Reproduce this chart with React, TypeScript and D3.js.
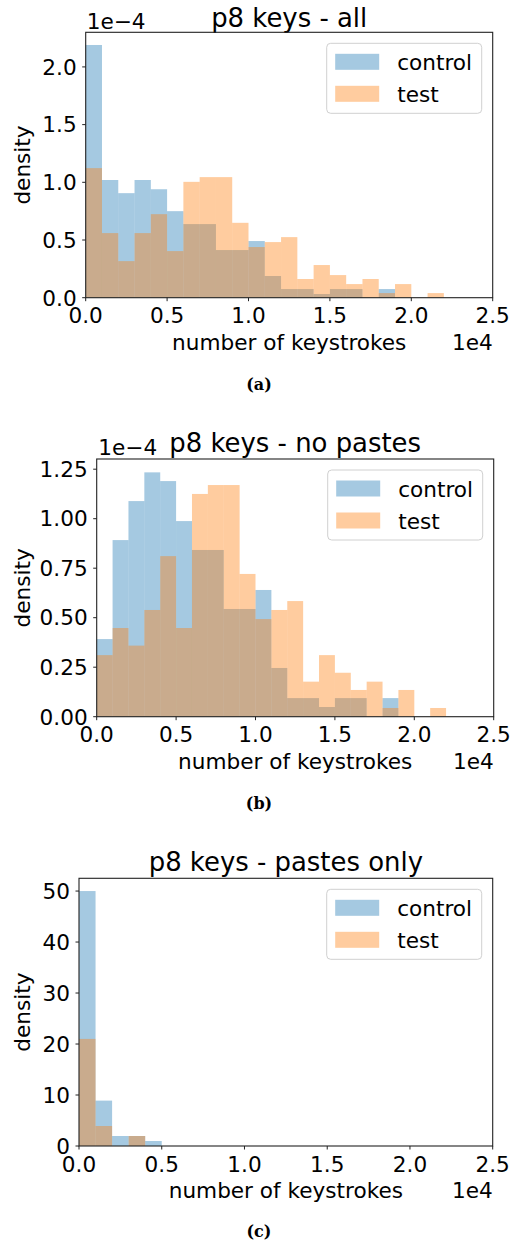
import React from "react";
import * as d3 from "d3";

// bin left edges (keystrokes), bin width 1000
const binEdges = d3.range(0, 22000, 1000);
const BIN_WIDTH = 1000;

// panel (a): density ×1e-4
const allControl = [2.19, 1.02, 0.906, 1.02, 0.94, 0.75, 0.638, 0.638, 0.413, 0.413, 0.491, 0.188, 0.075, 0.075, 0.032, 0.075, 0.075, 0, 0.075, 0, 0, 0];
const allTest = [1.123, 0.56, 0.317, 0.56, 0.724, 0.404, 1.004, 1.045, 1.045, 0.649, 0.439, 0.482, 0.525, 0.162, 0.283, 0.196, 0.118, 0.162, 0.04, 0.118, 0, 0.04];

// panel (b): density ×1e-4
const noPasteControl = [0.392, 0.892, 1.089, 1.234, 1.19, 0.988, 0.842, 0.842, 0.544, 0.544, 0.64, 0.246, 0.094, 0.094, 0.049, 0.094, 0.094, 0, 0.094, 0, 0, 0];
const noPasteTest = [0.311, 0.448, 0.359, 0.539, 0.811, 0.448, 1.125, 1.17, 1.17, 0.721, 0.493, 0.539, 0.584, 0.177, 0.311, 0.222, 0.135, 0.177, 0.044, 0.135, 0, 0.044];

// panel (c)
const pasteControl = [50, 8.9, 1.96, 1.96, 0.98, 0, 0, 0, 0, 0, 0, 0, 0, 0, 0, 0, 0, 0, 0, 0, 0, 0];
const pasteTest = [21.0, 3.92, 0, 1.96, 0, 0, 0, 0, 0, 0, 0, 0, 0, 0, 0, 0, 0, 0, 0, 0, 0, 0];

const xTicks = [0, 5000, 10000, 15000, 20000, 25000];
const xTickLabels = ["0.0", "0.5", "1.0", "1.5", "2.0", "2.5"];
const yTicksA = [0, 0.5, 1.0, 1.5, 2.0];
const yTicksB = [0, 0.25, 0.5, 0.75, 1.0, 1.25];
const yTicksC = [0, 10, 20, 30, 40, 50];

const seriesNames = ["control", "test"];
const seriesColors = ["#1f77b4", "#ff7f0e"];

const FONT = "DejaVu Sans, sans-serif";
const FS = 21.6;

type PanelProps = {
  left: number; right: number; top: number; bottom: number;
  yMax: number; yTicks: number[]; fmt: (v: number) => string;
  title: string; titleY: number; offsetLabel?: string; offsetX?: number; offsetY?: number;
  control: number[]; test: number[]; caption: string; captionY: number;
};

function Panel(p: PanelProps) {
  const x = d3.scaleLinear().domain([0, 25000]).range([p.left, p.right]);
  const y = d3.scaleLinear().domain([0, p.yMax]).range([p.bottom, p.top]);
  const series = [p.control, p.test];
  const cx = (p.left + p.right) / 2;
  const cy = (p.top + p.bottom) / 2;
  const lgW = 155, lgH = 70;
  const lgX = p.right - 11 - lgW, lgY = p.top + 11;
  return (
    <g>
      <text x={cx} y={p.titleY} fontSize={FS * 1.2} textAnchor="middle" fontFamily={FONT}>{p.title}</text>
      {p.offsetLabel && (
        <text x={p.offsetX} y={p.offsetY} fontSize={FS} fontFamily={FONT}>{p.offsetLabel}</text>
      )}
      {series.map((s, si) => (
        <g key={si}>
          {s.map((v, i) => v > 0 ? (
            <rect key={i} x={x(binEdges[i])} width={x(binEdges[i] + BIN_WIDTH) - x(binEdges[i])}
              y={y(v)} height={y(0) - y(v)} fill={seriesColors[si]} fillOpacity={0.4} />
          ) : null)}
        </g>
      ))}
      <rect x={p.left} y={p.top} width={p.right - p.left} height={p.bottom - p.top} fill="none" stroke="#222" strokeWidth={1.1} />
      {xTicks.map((t, i) => (
        <g key={i}>
          <line x1={x(t)} x2={x(t)} y1={p.bottom} y2={p.bottom + 3.5} stroke="#222" strokeWidth={1} />
          <text x={x(t)} y={p.bottom + 25.5} fontSize={FS} textAnchor="middle" fontFamily={FONT}>{xTickLabels[i]}</text>
        </g>
      ))}
      {p.yTicks.map((t, i) => (
        <g key={i}>
          <line x1={p.left - 3.5} x2={p.left} y1={y(t)} y2={y(t)} stroke="#222" strokeWidth={1} />
          <text x={p.left - 9} y={y(t) + 7.8} fontSize={FS} textAnchor="end" fontFamily={FONT}>{p.fmt(t)}</text>
        </g>
      ))}
      <text x={cx} y={p.bottom + 52} fontSize={FS} textAnchor="middle" fontFamily={FONT}>number of keystrokes</text>
      <text x={p.right} y={p.bottom + 52} fontSize={FS} textAnchor="end" fontFamily={FONT}>1e4</text>
      <text transform={`translate(29.7,${cy}) rotate(-90)`} fontSize={FS} textAnchor="middle" fontFamily={FONT}>density</text>
      <rect x={lgX} y={lgY} width={lgW} height={lgH} rx={4} fill="white" fillOpacity={0.8} stroke="#d0d0d0" strokeWidth={1} />
      {seriesNames.map((n, i) => (
        <g key={n}>
          <rect x={lgX + 8.5} y={lgY + 10.5 + i * 32} width={44} height={16} fill={seriesColors[i]} fillOpacity={0.4} />
          <text x={lgX + 70.5} y={lgY + 10.5 + i * 32 + 16} fontSize={FS} fontFamily={FONT}>{n}</text>
        </g>
      ))}
      <text x={259} y={p.captionY} fontSize={16} fontWeight="bold" textAnchor="middle" fontFamily="DejaVu Serif, serif">{p.caption}</text>
    </g>
  );
}

export default function App() {
  return (
    <svg width={516} height={1244} style={{ position: "absolute", left: 0, top: 0, background: "white" }}>
      <rect width={516} height={1244} fill="white" />
      <Panel left={85.7} right={492.7} top={32.3} bottom={297.7} yMax={2.3} yTicks={yTicksA} fmt={d3.format(".1f")}
        title="p8 keys - all" titleY={26.5} offsetLabel="1e−4" offsetX={86.7} offsetY={29.3}
        control={allControl} test={allTest} caption="(a)" captionY={390} />
      <Panel left={96.7} right={493.7} top={459} bottom={716.7} yMax={1.3015} yTicks={yTicksB} fmt={d3.format(".2f")}
        title="p8 keys - no pastes" titleY={452.3} offsetLabel="1e−4" offsetX={98.3} offsetY={455}
        control={noPasteControl} test={noPasteTest} caption="(b)" captionY={809} />
      <Panel left={79} right={492.7} top={878.3} bottom={1146} yMax={52.5} yTicks={yTicksC} fmt={d3.format("d")}
        title="p8 keys - pastes only" titleY={870.7}
        control={pasteControl} test={pasteTest} caption="(c)" captionY={1237} />
    </svg>
  );
}
